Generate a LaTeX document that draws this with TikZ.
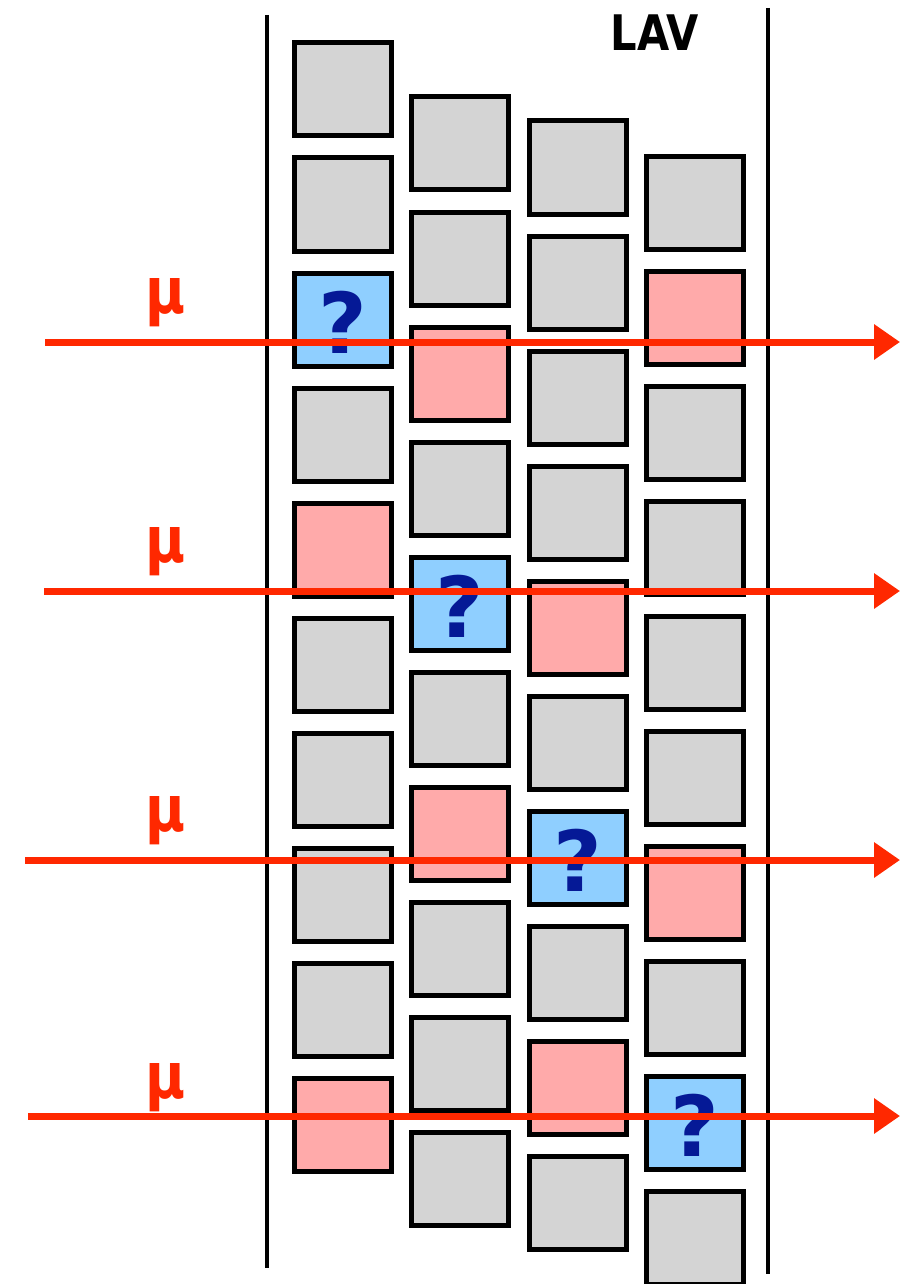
\documentclass[tikz,border=0pt]{standalone}
\usepackage{fontspec}
\setmainfont{DejaVu Sans}
\newfontfamily\lavfont{DejaVu Sans}[FakeStretch=0.85]
\usetikzlibrary{arrows.meta}

\definecolor{blockgrey}{RGB}{212,212,212}
\definecolor{hitpink}{RGB}{255,170,170}
\definecolor{askblue}{RGB}{143,207,255}
\definecolor{askdark}{RGB}{5,25,150}
\definecolor{muonred}{RGB}{255,40,0}

\tikzset{
  block/.style={draw=black, line width=5pt, fill=blockgrey, rectangle,
    minimum width=97pt, minimum height=93pt, inner sep=0pt},
  hitblock/.style={block, fill=hitpink},
  askblock/.style={block, fill=askblue, text=askdark, text height=67pt, text depth=0pt,
    font=\bfseries\fontsize{84}{84}\selectfont},
  muon/.style={muonred, line width=7pt, -{Triangle[length=26pt,width=34pt]}},
  mulabel/.style={text=muonred, anchor=base, inner sep=0pt,
    font=\lavfont\bfseries\fontsize{64}{64}\selectfont},
  wall/.style={black, line width=4pt}
}

\begin{document}
\begin{tikzpicture}[x=1pt, y=-1pt]
    \useasboundingbox (0,0) rectangle (900,1284);
    %\draw[help lines, color=gray!30, dashed] (0,0) grid[step=100] (900,1284);
    \coordinate (wl1) at (267,15);
    \coordinate (wl2) at (267,1268);
    \coordinate (wr1) at (768,8);
    \coordinate (wr2) at (768,1274);
    \draw[wall] (wl1) -- (wl2);
    \draw[wall] (wr1) -- (wr2);
    \node[inner sep=0pt, font=\lavfont\bfseries\fontsize{49}{49}\selectfont] (lav) at (655,33) {LAV};
    % four staggered columns of blocks
    \foreach \c/\x/\y in {1/342.5/89.5, 2/460/143.5, 3/577.5/167.5, 4/695/203}
      \foreach \r in {1,...,10}
        \node[block] (b\c-\r) at ({\x},{\y+115*(\r-1)}) {};
    \foreach \c/\r in {1/5, 1/10, 2/3, 2/7, 3/5, 3/9, 4/2, 4/7}
      \node[hitblock] (h\c-\r) at (b\c-\r) {};
    \foreach \c/\r in {1/3, 2/5, 3/7, 4/9}
      \node[askblock] (q\c) at (b\c-\r) {?};
    % muon tracks
    \foreach \m/\xs/\y/\b in {1/45/342/313, 2/44/591/562, 3/25/860/831, 4/28/1116/1098} {
      \coordinate (m\m s) at (\xs,\y);
      \coordinate (m\m e) at (900,\y);
      \node[mulabel] (mu\m) at (166,\b) {μ};
      \draw[muon] (m\m s) -- (m\m e);
    }
\end{tikzpicture}
\end{document}
